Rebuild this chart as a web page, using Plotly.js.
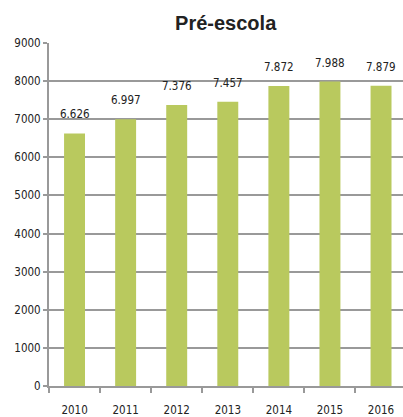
<!DOCTYPE html>
<html><head><meta charset="utf-8">
<script src="https://cdn.plot.ly/plotly-3.0.1.min.js"></script>
<style>html,body{margin:0;padding:0;background:#fff}#chart{width:403px;height:417px}</style>
</head><body><div id="chart"></div>
<script>
const years = ['2010','2011','2012','2013','2014','2015','2016'];
const values = [6626, 6997, 7376, 7457, 7872, 7988, 7879];
const labels = ['6.626','6.997','7.376','7.457','7.872','7.988','7.879'];
const yTicks = [0,1000,2000,3000,4000,5000,6000,7000,8000,9000];

const narrow = 'DejaVu Sans Condensed, sans-serif';
const trace = {
  type: 'bar', x: years, y: values,
  marker: {color: '#b9c95e'},
  width: 0.41, hoverinfo: 'none'
};
const annotations = years.map((yr, i) => ({
  x: i, y: values[i], xref: 'x', yref: 'y', text: labels[i], showarrow: false,
  yanchor: 'bottom', yshift: 10,
  font: {family: narrow, size: 11.5, color: '#222'}
}));
const layout = {
  width: 403, height: 417,
  margin: {l: 49, r: 0, t: 43, b: 31},
  paper_bgcolor: '#fff', plot_bgcolor: '#fff',
  showlegend: false,
  title: {text: '<b>Pré-escola</b>', x: 0.56, xanchor: 'center', y: 0.945, yanchor: 'middle',
          font: {family: 'Liberation Sans, Arial, sans-serif', size: 20, color: '#222'}},
  xaxis: {
    type: 'category', range: [-0.5, 6.43],
    showgrid: false, showline: true, linecolor: '#999', linewidth: 2,
    ticks: 'outside', tickson: 'boundaries', ticklen: 5, tickcolor: '#999', tickwidth: 2,
    ticklabelstandoff: 12,
    tickfont: {family: narrow, size: 11.5, color: '#222'}
  },
  yaxis: {
    range: [0, 9000], tickvals: yTicks, ticktext: yTicks.map(String),
    showgrid: true, gridcolor: '#999', gridwidth: 2,
    showline: true, linecolor: '#999', linewidth: 2,
    ticks: 'outside', ticklen: 4, tickcolor: '#999', tickwidth: 2,
    zeroline: false,
    tickfont: {family: narrow, size: 11.5, color: '#222'}
  },
  annotations: annotations
};
Plotly.newPlot('chart', [trace], layout, {displayModeBar: false, staticPlot: true});
</script></body></html>
